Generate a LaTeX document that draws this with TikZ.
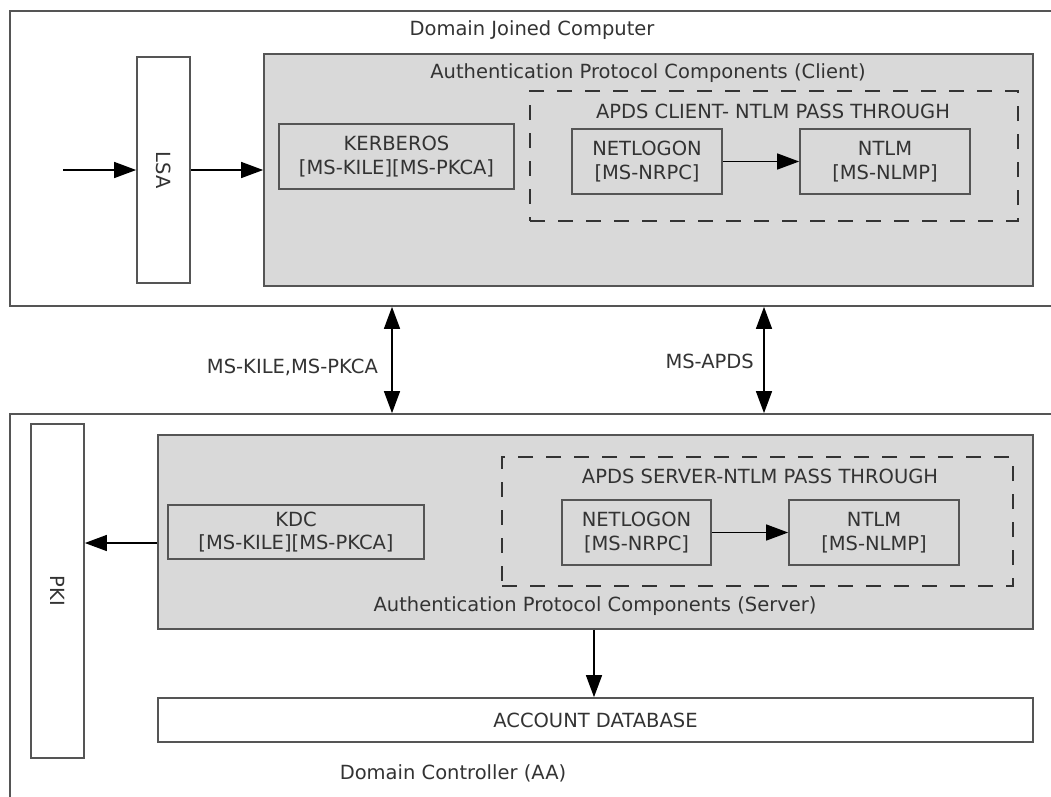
\documentclass[tikz,border=0pt]{standalone}
\usepackage{fontspec}
\setmainfont{DejaVu Sans}
\usetikzlibrary{arrows.meta}
\definecolor{edge}{HTML}{555555}
\definecolor{panel}{HTML}{D9D9D9}
\definecolor{ink}{HTML}{333333}
\begin{document}
\begin{tikzpicture}[x=1pt,y=-1pt,
  txt/.style={font=\fontsize{19.5}{23.5}\selectfont, text=ink, inner sep=0pt, align=center},
  box/.style={txt, draw=edge, line width=1.7pt},
  graybox/.style={box, fill=panel},
  dashbox/.style={draw=black!80, line width=2.6pt, dash pattern=on 15pt off 13pt},
  conn/.style={draw=black, line width=1.4pt, -{Triangle[length=22pt,width=16pt]}},
  biconn/.style={draw=black, line width=1.4pt, {Triangle[length=22pt,width=16pt]}-{Triangle[length=22pt,width=16pt]}}
]
\useasboundingbox (0,0) rectangle (1051,796);
\fill[white] (0,0) rectangle (1051,796);
\clip (0,0) rectangle (1051,796);

% outer containers
\node[box, minimum width=1060pt, minimum height=295pt] (top) at (540,158.5) {};
\node[box, minimum width=1060pt, minimum height=396pt] (bot) at (540,612) {};
\node[txt] (topt) at (532,30) {Domain Joined Computer};
\node[txt] (bott) at (453,773) {Domain Controller (AA)};

% client side
\node[box, fill=white, minimum width=53pt, minimum height=226pt] (lsa) at (163.5,170) {\rotatebox{-90}{LSA}};
\node[graybox, minimum width=769pt, minimum height=232pt] (client) at (648.5,170) {};
\node[txt] (clientt) at (648,73) {Authentication Protocol Components (Client)};
\node[box, minimum width=235pt, minimum height=65pt] (kerb) at (396.5,156.5) {KERBEROS\\{}[MS-KILE][MS-PKCA]};
\node[dashbox, minimum width=488pt, minimum height=130pt] (cdash) at (774,156) {};
\node[txt] (cdasht) at (773,111) {APDS CLIENT- NTLM PASS THROUGH};
\node[box, minimum width=150pt, minimum height=65pt] (cnet) at (647,161.5) {NETLOGON\\{}[MS-NRPC]};
\node[box, minimum width=170pt, minimum height=65pt] (cntlm) at (885,161.5) {NTLM\\{}[MS-NLMP]};

\coordinate (in) at (63,170);
\draw[conn] (in) -- (lsa.west);
\draw[conn] (lsa.east) -- (client.west);
\draw[conn] (cnet.east) -- (cntlm.west);

% links between machines
\coordinate (k) at (392,360);
\coordinate (p) at (764,360);
\draw[biconn] (k |- top.south) -- (k |- bot.north);
\draw[biconn] (p |- top.south) -- (p |- bot.north);
\node[txt, anchor=east] (kl) at (378,367) {MS-KILE,MS-PKCA};
\node[txt, anchor=east] (pl) at (754,361) {MS-APDS};

% server side
\node[box, fill=white, minimum width=53pt, minimum height=334pt] (pki) at (57.5,591) {\rotatebox{-90}{PKI}};
\node[graybox, minimum width=875pt, minimum height=194pt] (server) at (595.5,532) {};
\node[txt] (servert) at (595,606) {Authentication Protocol Components (Server)};
\node[box, minimum width=256pt, minimum height=54pt] (kdc) at (296,532) {KDC\\{}[MS-KILE][MS-PKCA]};
\node[dashbox, minimum width=511pt, minimum height=129pt] (sdash) at (757.5,521.5) {};
\node[txt] (sdasht) at (760,476) {APDS SERVER-NTLM PASS THROUGH};
\node[box, minimum width=149pt, minimum height=65pt] (snet) at (636.5,532.5) {NETLOGON\\{}[MS-NRPC]};
\node[box, minimum width=170pt, minimum height=65pt] (sntlm) at (874,532.5) {NTLM\\{}[MS-NLMP]};
\node[box, fill=white, minimum width=875pt, minimum height=44pt] (db) at (595.5,720) {ACCOUNT DATABASE};

\draw[conn] (snet.east) -- (sntlm.west);
\coordinate (pk) at (120,543);
\draw[conn] (pk -| server.west) -- (pk -| pki.east);
\coordinate (d) at (594,660);
\draw[conn] (d |- server.south) -- (d |- db.north);
\end{tikzpicture}
\end{document}
